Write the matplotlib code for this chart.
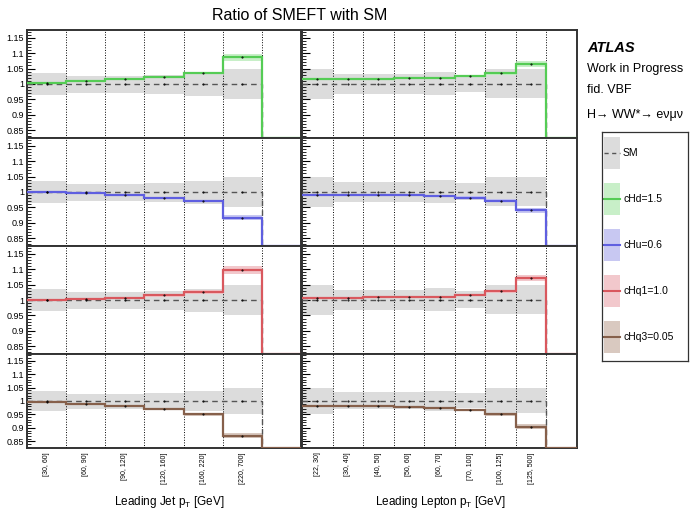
import numpy as np
from matplotlib import pyplot as plt
from matplotlib.patches import Rectangle

plt.rcParams['font.family'] = ['Liberation Sans', 'DejaVu Sans']

W, H = 692, 511

jet_bins = ['[30, 60]', '[60, 90]', '[90, 120]', '[120, 160]', '[160, 220]', '[220, 700]']
lep_bins = ['[22, 30]', '[30, 40]', '[40, 50]', '[50, 60]', '[60, 70]', '[70, 100]', '[100, 125]', '[125, 500]']

# SM uncertainty band
jet_sm_up = [1.036, 1.026, 1.027, 1.030, 1.037, 1.048]
jet_sm_dn = [0.963, 0.972, 0.972, 0.968, 0.961, 0.952]
lep_sm_up = [1.049, 1.033, 1.033, 1.033, 1.039, 1.028, 1.049, 1.049]
lep_sm_dn = [0.953, 0.969, 0.969, 0.969, 0.963, 0.974, 0.955, 0.955]

labels = ['cHd=1.5', 'cHu=0.6', 'cHq1=1.0', 'cHq3=0.05']
line_cols = ['#55cc55', '#5f5fe0', '#d9585e', '#86604b']
band_cols = ['#c8efc8', '#c8c8f2', '#f2c8cc', '#d9c9c0']

# ratios to SM, leading jet pT
jet_cHd = [1.003, 1.009, 1.016, 1.024, 1.035, 1.087]
jet_cHu = [0.999, 0.996, 0.989, 0.982, 0.971, 0.917]
jet_cHq1 = [1.000, 1.002, 1.006, 1.015, 1.026, 1.097]
jet_cHq3 = [0.995, 0.989, 0.980, 0.970, 0.951, 0.871]
jet_cHd_err = [0.003, 0.003, 0.003, 0.003, 0.004, 0.011]
jet_cHu_err = [0.003, 0.003, 0.003, 0.003, 0.004, 0.009]
jet_cHq1_err = [0.003, 0.003, 0.003, 0.004, 0.005, 0.014]
jet_cHq3_err = [0.003, 0.003, 0.003, 0.004, 0.005, 0.010]

# ratios to SM, leading lepton pT
lep_cHd = [1.016, 1.016, 1.017, 1.018, 1.021, 1.026, 1.035, 1.065]
lep_cHu = [0.990, 0.990, 0.990, 0.989, 0.987, 0.982, 0.971, 0.941]
lep_cHq1 = [1.005, 1.006, 1.009, 1.009, 1.011, 1.016, 1.029, 1.072]
lep_cHq3 = [0.981, 0.981, 0.980, 0.977, 0.973, 0.967, 0.951, 0.905]
lep_cHd_err = [0.003, 0.003, 0.003, 0.003, 0.003, 0.004, 0.005, 0.009]
lep_cHu_err = [0.003, 0.003, 0.003, 0.003, 0.003, 0.004, 0.005, 0.008]
lep_cHq1_err = [0.003, 0.003, 0.003, 0.003, 0.003, 0.004, 0.005, 0.010]
lep_cHq3_err = [0.003, 0.003, 0.003, 0.003, 0.003, 0.004, 0.005, 0.008]

jet_vals = [jet_cHd, jet_cHu, jet_cHq1, jet_cHq3]
jet_errs = [jet_cHd_err, jet_cHu_err, jet_cHq1_err, jet_cHq3_err]
lep_vals = [lep_cHd, lep_cHu, lep_cHq1, lep_cHq3]
lep_errs = [lep_cHd_err, lep_cHu_err, lep_cHq1_err, lep_cHq3_err]

YLO, YHI = 0.825, 1.175
yticks = [0.85, 0.9, 0.95, 1.0, 1.05, 1.1, 1.15]
ytick_labels = ['0.85', '0.9', '0.95', '1', '1.05', '1.1', '1.15']

rows = [(30, 138), (138, 246), (246, 354), (354, 448)]
cols = [(27, 301), (302, 577)]


def rect(x0, y0, x1, y1):
    return [x0 / W, 1 - y1 / H, (x1 - x0) / W, (y1 - y0) / H]


def draw_panel(ax, bins, sm_up, sm_dn, vals, errs, lc, bc, bottom, first_col):
    nd = len(bins)
    nb = nd + 1
    edges = np.arange(nb + 1)
    centers = edges[:-1] + 0.5
    vals = np.array(vals)
    errs = np.array(errs)

    ax.stairs(sm_up, edges[:nd + 1], baseline=sm_dn, fill=True, color='#dcdcdc', zorder=1)
    ax.stairs(vals + errs, edges[:nd + 1], baseline=vals - errs, fill=True, color=bc, zorder=2)
    for e in edges[1:nd + 1]:
        ax.axvline(e, color='k', ls=':', lw=0.7, zorder=3)
    # empty last bin is drawn on the lower edge of the frame
    ax.stairs(np.r_[np.ones(nd), YLO], edges, baseline=None, color='#555555',
              ls=(0, (4, 3)), lw=1.0, zorder=4)
    ax.stairs(np.r_[vals, YLO], edges, baseline=None, color=lc, lw=1.6, zorder=5)
    ax.plot(centers[:nd], vals, 'k.', ms=1.0, zorder=6)
    ax.plot(centers[:nd], np.ones(nd), 'k.', ms=1.0, zorder=6)

    ax.set_xlim(0, nb)
    ax.set_ylim(YLO, YHI)
    ax.set_yticks(yticks)
    ax.set_yticks(np.arange(0.83, 1.175, 0.01), minor=True)
    if first_col:
        ax.set_yticklabels(ytick_labels)
    else:
        ax.set_yticklabels([])
    ax.tick_params(axis='y', which='major', direction='in', length=6, width=0.8, labelsize=6.5, pad=2)
    ax.tick_params(axis='y', which='minor', direction='in', length=3, width=0.6)
    ax.set_xticks(centers[:nd])
    if bottom:
        ax.set_xticklabels(bins, rotation=90, fontsize=5, va='top')
    else:
        ax.set_xticklabels([])
    ax.tick_params(axis='x', length=0, pad=3)
    for s in ax.spines.values():
        s.set_linewidth(1.4)
        s.set_color('#333333')


fig = plt.figure(figsize=(W / 100, H / 100), dpi=100)

for i in range(4):
    y0, y1 = rows[i]
    ax = fig.add_axes(rect(cols[0][0], y0, cols[0][1], y1))
    draw_panel(ax, jet_bins, jet_sm_up, jet_sm_dn, jet_vals[i], jet_errs[i],
               line_cols[i], band_cols[i], i == 3, True)
    ax = fig.add_axes(rect(cols[1][0], y0, cols[1][1], y1))
    draw_panel(ax, lep_bins, lep_sm_up, lep_sm_dn, lep_vals[i], lep_errs[i],
               line_cols[i], band_cols[i], i == 3, False)

fig.text(300 / W, 1 - 16 / H, 'Ratio of SMEFT with SM', ha='center', va='center', fontsize=11.5)
fig.text(169 / W, 1 - 505 / H, 'Leading Jet p$_\\mathregular{T}$ [GeV]', ha='center', va='baseline', fontsize=8.5)
fig.text(440 / W, 1 - 505 / H, 'Leading Lepton p$_\\mathregular{T}$ [GeV]', ha='center', va='baseline', fontsize=8.5)

fig.text(587 / W, 1 - 48 / H, 'ATLAS', fontsize=10.5, fontweight='bold', fontstyle='italic', va='center')
fig.text(587 / W, 1 - 69 / H, 'Work in Progress', fontsize=9, va='center')
fig.text(587 / W, 1 - 90 / H, 'fid. VBF', fontsize=9, va='center')
fig.text(587 / W, 1 - 115 / H, 'H\u2192 WW*\u2192 e\u03bd\u03bc\u03bd', fontsize=9, va='center')

# legend box, drawn in pixel units
lax = fig.add_axes(rect(602, 132, 688, 361))
lax.set_xlim(0, 86)
lax.set_ylim(229, 0)
lax.set_xticks([])
lax.set_yticks([])
for s in lax.spines.values():
    s.set_linewidth(0.9)
    s.set_color('#333333')

leg_labels = ['SM'] + labels
leg_lines = ['#555555'] + line_cols
leg_bands = ['#dcdcdc'] + band_cols
for k in range(5):
    yc = 21 + 46 * k
    lax.add_patch(Rectangle((2, yc - 16), 16, 32, facecolor=leg_bands[k], edgecolor='none'))
    if k == 0:
        lax.plot([2, 18], [yc, yc], color=leg_lines[k], ls=(0, (3, 2.5)), lw=1.0)
    else:
        lax.plot([2, 18], [yc, yc], color=leg_lines[k], lw=1.5)
    lax.text(21, yc, leg_labels[k], fontsize=7.5, va='center', ha='left')

plt.savefig('out.png', dpi=100)
